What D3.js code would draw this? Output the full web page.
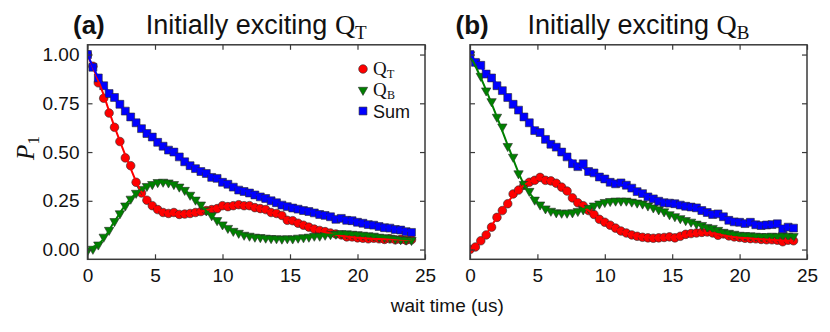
<!DOCTYPE html>
<html><head><meta charset="utf-8">
<script src="https://cdn.jsdelivr.net/npm/d3@7"></script>
<style>body{margin:0;background:#fff} svg{display:block}</style>
</head><body><svg id="c" width="830" height="332"></svg>
<script>
// ---------- DATA ----------
const waitTime = [0,0.4,0.8,1.2,1.6,2,2.4,2.8,3.2,3.6,4,4.4,4.8,5.2,5.6,6,6.4,6.8,7.2,7.6,8,8.4,8.8,9.2,9.6,10,10.4,10.8,11.2,11.6,12,12.4,12.8,13.2,13.6,14,14.4,14.8,15.2,15.6,16,16.4,16.8,17.2,17.6,18,18.4,18.8,19.2,19.6,20,20.4,20.8,21.2,21.6,22,22.4,22.8,23.2,23.6,24];
const fitTime = [0,1,2,3,4,5,6,7,8,9,10,11,12,13,14,15,16,17,18,19,20,21,22,23,24];

// panel (a): initially exciting Q_T
const aQT = [1.00,0.94,0.855,0.776,0.70,0.627,0.554,0.47,0.43,0.345,0.29,0.253,0.225,0.205,0.19,0.185,0.19,0.18,0.182,0.185,0.19,0.195,0.20,0.205,0.21,0.225,0.22,0.225,0.23,0.225,0.225,0.215,0.21,0.205,0.19,0.185,0.175,0.15,0.148,0.135,0.125,0.115,0.105,0.098,0.092,0.085,0.08,0.075,0.065,0.065,0.06,0.058,0.055,0.058,0.055,0.052,0.055,0.05,0.052,0.048,0.05];
const aQB = [-0.005,0.003,0.025,0.065,0.10,0.145,0.185,0.225,0.26,0.29,0.31,0.325,0.335,0.345,0.347,0.343,0.335,0.322,0.305,0.28,0.255,0.23,0.2,0.175,0.15,0.128,0.11,0.095,0.085,0.075,0.07,0.065,0.063,0.06,0.058,0.057,0.055,0.057,0.056,0.06,0.062,0.065,0.07,0.07,0.075,0.078,0.08,0.083,0.082,0.08,0.078,0.075,0.072,0.07,0.065,0.062,0.06,0.055,0.052,0.05,0.048];
const aSum = [1.00,0.935,0.88,0.84,0.80,0.78,0.745,0.71,0.68,0.65,0.62,0.595,0.577,0.55,0.53,0.51,0.50,0.475,0.45,0.43,0.415,0.40,0.39,0.37,0.365,0.345,0.335,0.32,0.305,0.298,0.29,0.28,0.27,0.262,0.25,0.24,0.228,0.22,0.213,0.207,0.20,0.195,0.188,0.18,0.175,0.168,0.155,0.16,0.15,0.148,0.14,0.135,0.128,0.125,0.118,0.112,0.11,0.103,0.10,0.092,0.088];
const aQTfit = [1.0,0.83,0.63,0.45,0.295,0.215,0.185,0.182,0.19,0.205,0.22,0.228,0.225,0.205,0.18,0.15,0.125,0.1,0.083,0.068,0.06,0.055,0.053,0.051,0.05];
const aQBfit = [0.0,0.04,0.145,0.245,0.31,0.343,0.343,0.315,0.255,0.185,0.128,0.09,0.07,0.06,0.056,0.056,0.062,0.07,0.077,0.082,0.08,0.074,0.064,0.056,0.05];
const aSumfit = [1.0,0.86,0.775,0.695,0.625,0.565,0.51,0.465,0.42,0.385,0.35,0.32,0.293,0.268,0.245,0.225,0.205,0.188,0.172,0.157,0.143,0.128,0.115,0.103,0.092];

// panel (b): initially exciting Q_B
const bQT = [0.0,0.013,0.045,0.075,0.115,0.165,0.20,0.235,0.285,0.305,0.33,0.345,0.355,0.37,0.355,0.352,0.34,0.32,0.30,0.265,0.24,0.225,0.20,0.18,0.155,0.14,0.125,0.11,0.095,0.085,0.075,0.068,0.063,0.06,0.058,0.06,0.062,0.065,0.06,0.068,0.078,0.082,0.085,0.088,0.09,0.085,0.073,0.08,0.07,0.065,0.062,0.058,0.056,0.055,0.052,0.05,0.05,0.048,0.04,0.048,0.045];
const bQB = [1.0,0.96,0.89,0.815,0.76,0.68,0.63,0.53,0.475,0.39,0.335,0.30,0.255,0.23,0.21,0.198,0.19,0.188,0.188,0.19,0.197,0.205,0.213,0.225,0.235,0.243,0.248,0.25,0.25,0.25,0.245,0.24,0.235,0.225,0.215,0.205,0.195,0.18,0.17,0.16,0.15,0.142,0.132,0.125,0.115,0.11,0.10,0.09,0.085,0.08,0.075,0.073,0.072,0.07,0.068,0.068,0.07,0.068,0.072,0.07,0.068];
const bSum = [1.0,0.96,0.945,0.90,0.88,0.84,0.815,0.78,0.745,0.715,0.68,0.65,0.61,0.60,0.565,0.54,0.525,0.50,0.475,0.44,0.425,0.44,0.40,0.393,0.372,0.362,0.345,0.337,0.342,0.33,0.315,0.297,0.287,0.27,0.26,0.248,0.24,0.238,0.235,0.228,0.222,0.218,0.214,0.20,0.19,0.18,0.183,0.168,0.15,0.142,0.14,0.133,0.14,0.127,0.123,0.126,0.128,0.132,0.106,0.115,0.11];
const bQTfit = [0.0,0.06,0.165,0.26,0.33,0.362,0.352,0.31,0.24,0.19,0.14,0.1,0.075,0.063,0.06,0.063,0.072,0.084,0.083,0.07,0.061,0.056,0.051,0.047,0.045];
const bQBfit = [1.0,0.85,0.68,0.50,0.335,0.243,0.198,0.188,0.197,0.225,0.243,0.25,0.247,0.232,0.21,0.18,0.15,0.125,0.1,0.083,0.075,0.071,0.069,0.069,0.069];
const bSumfit = [1.0,0.92,0.85,0.765,0.68,0.605,0.545,0.49,0.435,0.395,0.362,0.338,0.315,0.28,0.25,0.235,0.222,0.205,0.182,0.16,0.142,0.134,0.127,0.12,0.11];

const xTicks = [0,5,10,15,20,25];
const yTicks = [0,0.25,0.5,0.75,1.0];
const yTickLabels = ["0.00","0.25","0.50","0.75","1.00"];
const panelLetters = ["(a)","(b)"];
const titleSubs = ["T","B"];
const legendSubs = ["T","B"];

// ---------- LAYOUT ----------
const svg = d3.select('#c');
const TOP = 44.8, BOT = 259.3;
const y = d3.scaleLinear().domain([-0.05,1.05]).range([BOT, TOP]);
const FRAME = '#3a3a3a';
const SANS = '"Liberation Sans", Arial, sans-serif';
const SERIF = '"Liberation Serif", "Times New Roman", serif';
const colors = {QT:'#ff0000', QB:'#008000', Sum:'#0000ff'};

const panels = [
  {x0:87.5, x1:425, QT:aQT, QB:aQB, Sum:aSum, fQT:aQTfit, fQB:aQBfit, fSum:aSumfit, yLabels:true, legend:true},
  {x0:470, x1:807, QT:bQT, QB:bQB, Sum:bSum, fQT:bQTfit, fQB:bQBfit, fSum:bSumfit, yLabels:false, legend:false}
];

const symCircle = d3.symbol().type(d3.symbolCircle).size(58)();
const symTri = d3.symbol().type(d3.symbolTriangle).size(38)();
const symSquare = d3.symbol().type(d3.symbolSquare).size(62)();
const markers = {QT:{path:symCircle, rot:0}, QB:{path:symTri, rot:180}, Sum:{path:symSquare, rot:0}};

panels.forEach((p, pi) => {
  const x = d3.scaleLinear().domain([0,25]).range([p.x0, p.x1]);
  const g = svg.append('g');

  const cid = 'clip'+pi;
  svg.append('clipPath').attr('id', cid).append('rect')
    .attr('x', p.x0).attr('y', TOP).attr('width', p.x1-p.x0).attr('height', BOT-TOP);
  const plot = g.append('g').attr('clip-path', `url(#${cid})`);

  ['QT','QB','Sum'].forEach(k => {
    plot.append('g').selectAll('path').data(p[k]).join('path')
      .attr('d', markers[k].path)
      .attr('transform', (d,i) => `translate(${x(waitTime[i])},${y(d)}) rotate(${markers[k].rot})`)
      .attr('fill', colors[k]).attr('stroke', '#2a2a2a').attr('stroke-width', 0.6);
  });
  const line = d3.line().x((d,i)=>x(fitTime[i])).y(d=>y(d)).curve(d3.curveCatmullRom.alpha(0.5));
  [['fQT','QT'],['fQB','QB'],['fSum','Sum']].forEach(([f,k]) => {
    plot.append('path').attr('d', line(p[f])).attr('fill','none')
      .attr('stroke', colors[k]).attr('stroke-width', 2);
  });

  const axB = d3.axisBottom(x).tickValues(xTicks).tickSizeInner(-5).tickSizeOuter(0).tickPadding(9).tickFormat(d3.format('d'));
  const axT = d3.axisTop(x).tickValues(xTicks).tickSizeInner(-5).tickSizeOuter(0).tickFormat('');
  const axL = d3.axisLeft(y).tickValues(yTicks).tickSizeInner(-5).tickSizeOuter(0).tickPadding(8)
      .tickFormat((d,i)=> p.yLabels ? yTickLabels[i] : '');
  const axR = d3.axisRight(y).tickValues(yTicks).tickSizeInner(-5).tickSizeOuter(0).tickFormat('');
  const gb = g.append('g').attr('transform',`translate(0,${BOT})`).call(axB);
  const gt = g.append('g').attr('transform',`translate(0,${TOP})`).call(axT);
  const gl = g.append('g').attr('transform',`translate(${p.x0},0)`).call(axL);
  const gr = g.append('g').attr('transform',`translate(${p.x1},0)`).call(axR);
  [gb,gt,gl,gr].forEach(a => {
    a.select('.domain').remove();
    a.selectAll('.tick line').attr('stroke', FRAME).attr('stroke-width', 1.2);
    a.selectAll('.tick text').attr('font-family', SANS).attr('font-size', 19).attr('fill', '#111');
  });
  gb.selectAll('.tick text').attr('dy', '0.71em');
  g.append('rect').attr('x', p.x0).attr('y', TOP).attr('width', p.x1-p.x0).attr('height', BOT-TOP)
    .attr('fill','none').attr('stroke', FRAME).attr('stroke-width', 1.5);

  const cx = (p.x0 + p.x1)/2;
  g.append('text').attr('x', p.x0 - 14.5).attr('y', 34)
    .attr('font-family', SANS).attr('font-weight', 'bold').attr('font-size', 26).attr('fill','#111')
    .text(panelLetters[pi]);
  const t = g.append('text').attr('x', cx).attr('y', 34).attr('text-anchor','middle')
    .attr('font-family', SANS).attr('font-size', 27).attr('fill','#111');
  t.append('tspan').text('Initially exciting ');
  t.append('tspan').attr('font-family', SERIF).attr('font-size', 28).text('Q');
  t.append('tspan').attr('font-family', SERIF).attr('font-size', 19).attr('dy', 5).text(titleSubs[pi]);

  if (p.legend) {
    const lx = p.x1 - 62, ly0 = 69, dy = 21;
    const items = [
      {k:'QT', main:'Q', sub:legendSubs[0]},
      {k:'QB', main:'Q', sub:legendSubs[1]},
      {k:'Sum', main:'Sum', sub:null}
    ];
    items.forEach((it, i) => {
      const yy = ly0 + i*dy;
      g.append('path').attr('d', markers[it.k].path)
        .attr('transform', `translate(${lx},${yy}) rotate(${markers[it.k].rot})`)
        .attr('fill', colors[it.k]).attr('stroke','#2a2a2a').attr('stroke-width',0.6);
      if (it.sub) {
        g.append('text').attr('x', lx + 10).attr('y', yy + 6).attr('fill','#111')
          .attr('font-family', SERIF).attr('font-size', 19).text(it.main);
        g.append('text').attr('x', lx + 24).attr('y', yy + 9).attr('fill','#111')
          .attr('font-family', SERIF).attr('font-size', 12).text(it.sub);
      } else {
        g.append('text').attr('x', lx + 10).attr('y', yy + 6.5).attr('fill','#111')
          .attr('font-family', SANS).attr('font-size', 18).text(it.main);
      }
    });
  }
});

svg.append('text').attr('x', (87.5+807)/2).attr('y', 312).attr('text-anchor','middle')
  .attr('font-family', SANS).attr('font-size', 19).attr('fill','#111').text('wait time (us)');
const yl = svg.append('text').attr('transform','translate(34,148) rotate(-90)').attr('text-anchor','middle')
  .attr('fill','#111');
yl.append('tspan').attr('font-family', SERIF).attr('font-style','italic').attr('font-size', 25).text('P');
yl.append('tspan').attr('font-family', SERIF).attr('font-size', 17).attr('dy', 5).text('1');
</script>
</body></html>
